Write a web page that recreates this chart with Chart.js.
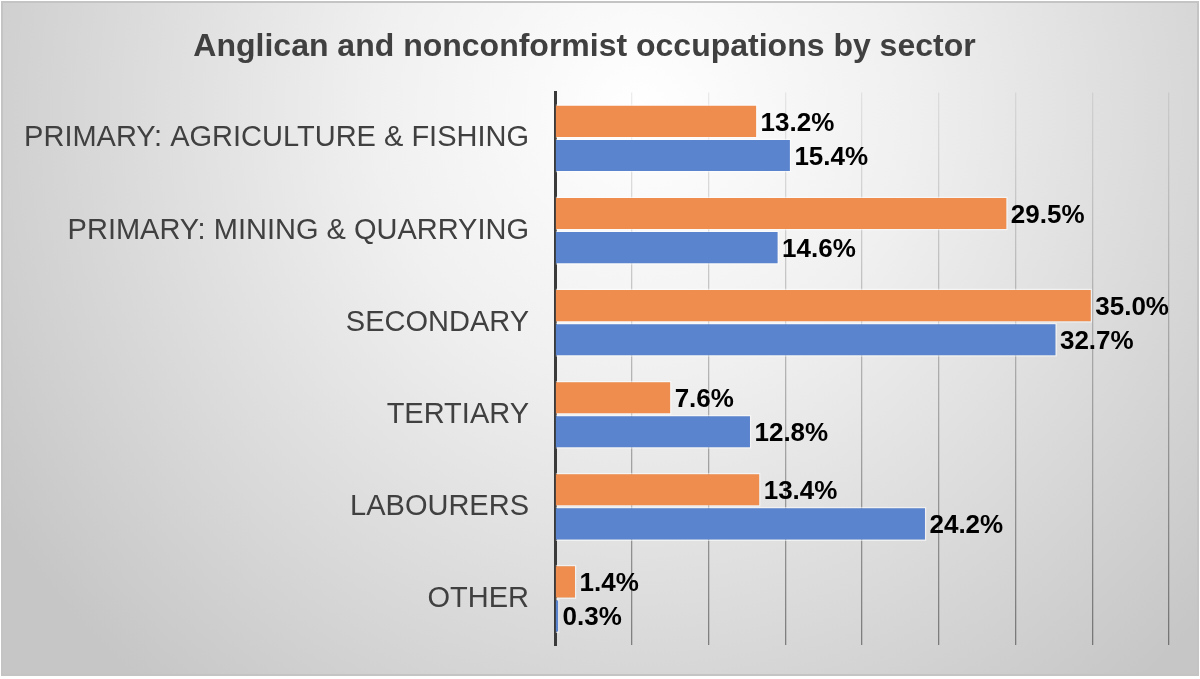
<!DOCTYPE html>
<html>
<head>
<meta charset="utf-8">
<script src="https://cdn.jsdelivr.net/npm/chart.js@4"></script>
<style>
  html, body { margin: 0; padding: 0; background: #fff; }
  #wrap { width: 1200px; height: 679px; position: relative; }
</style>
</head>
<body>
<div id="wrap"><canvas id="sectorChart"></canvas></div>
<script>
const sectors = ['PRIMARY: AGRICULTURE & FISHING', 'PRIMARY: MINING & QUARRYING', 'SECONDARY', 'TERTIARY', 'LABOURERS', 'OTHER'];
const orangeValues = [13.2, 29.5, 35.0, 7.6, 13.4, 1.4];
const blueValues = [15.4, 14.6, 32.7, 12.8, 24.2, 0.3];

const FONT = '"Liberation Sans", Arial, sans-serif';

/* grey radial background with thin frame */
const backdrop = {
  id: 'backdrop',
  beforeDraw(chart) {
    const { ctx, width, height } = chart;
    ctx.save();
    ctx.fillStyle = '#ffffff';
    ctx.fillRect(0, 0, width, height);
    const g = ctx.createRadialGradient(640, 110, 0, 640, 110, 760);
    g.addColorStop(0, '#ffffff');
    g.addColorStop(0.35, '#f0f0f0');
    g.addColorStop(1, '#c6c6c6');
    ctx.fillStyle = g;
    ctx.fillRect(2, 2, width - 4, height - 6);
    ctx.strokeStyle = '#c4c4c4';
    ctx.lineWidth = 2;
    ctx.strokeRect(2, 2, width - 4, height - 6);
    ctx.restore();
  }
};

/* value labels at the end of each bar */
const valueLabels = {
  id: 'valueLabels',
  afterDatasetsDraw(chart) {
    const { ctx } = chart;
    ctx.save();
    ctx.font = 'bold 26px ' + FONT;
    ctx.fillStyle = '#000000';
    ctx.textAlign = 'left';
    ctx.textBaseline = 'middle';
    chart.data.datasets.forEach((ds, i) => {
      chart.getDatasetMeta(i).data.forEach((bar, j) => {
        ctx.fillText(ds.data[j].toFixed(1) + '%', bar.x + 3, bar.y + 2);
      });
    });
    ctx.restore();
  }
};

function gridFade(context) {
  const chart = context.chart;
  const area = chart.chartArea;
  if (!area) return 'rgba(0,0,0,0.25)';
  const g = chart.ctx.createLinearGradient(0, area.top, 0, area.bottom);
  g.addColorStop(0, 'rgba(0,0,0,0.07)');
  g.addColorStop(1, 'rgba(0,0,0,0.42)');
  return g;
}

new Chart(document.getElementById('sectorChart'), {
  type: 'bar',
  data: {
    labels: sectors,
    datasets: [
      {
        data: orangeValues,
        backgroundColor: '#ee8d4e',
        borderColor: 'rgba(255,255,255,0.55)',
        borderWidth: 1.5
      },
      {
        data: blueValues,
        backgroundColor: '#5b84cf',
        borderColor: 'rgba(255,255,255,0.55)',
        borderWidth: 1.5
      }
    ]
  },
  options: {
    indexAxis: 'y',
    responsive: true,
    maintainAspectRatio: false,
    animation: false,
    categoryPercentage: 0.74,
    barPercentage: 1.0,
    layout: { padding: { left: 0, right: 31, top: 0, bottom: 34 } },
    plugins: {
      legend: { display: false },
      tooltip: { enabled: false },
      title: {
        display: true,
        text: 'Anglican and nonconformist occupations by sector',
        color: '#404040',
        font: { family: FONT, size: 32, weight: 'bold' },
        padding: { top: 28, bottom: 26 }
      }
    },
    scales: {
      x: {
        min: 0,
        max: 40,
        ticks: { display: false, stepSize: 5 },
        border: { display: false },
        grid: { color: gridFade, lineWidth: 1.3, drawTicks: false },
        afterFit(scale) { scale.height = 0; }
      },
      y: {
        ticks: { color: '#404040', font: { family: FONT, size: 29 }, padding: 26 },
        grid: { display: false, drawTicks: false },
        border: { display: true, color: '#3a3a3a', width: 3 },
        afterFit(scale) {
          scale.width = 555;
          scale.paddingTop = 0;
          scale.paddingBottom = 0;
        }
      }
    }
  },
  plugins: [backdrop, valueLabels]
});
</script>
</body>
</html>
